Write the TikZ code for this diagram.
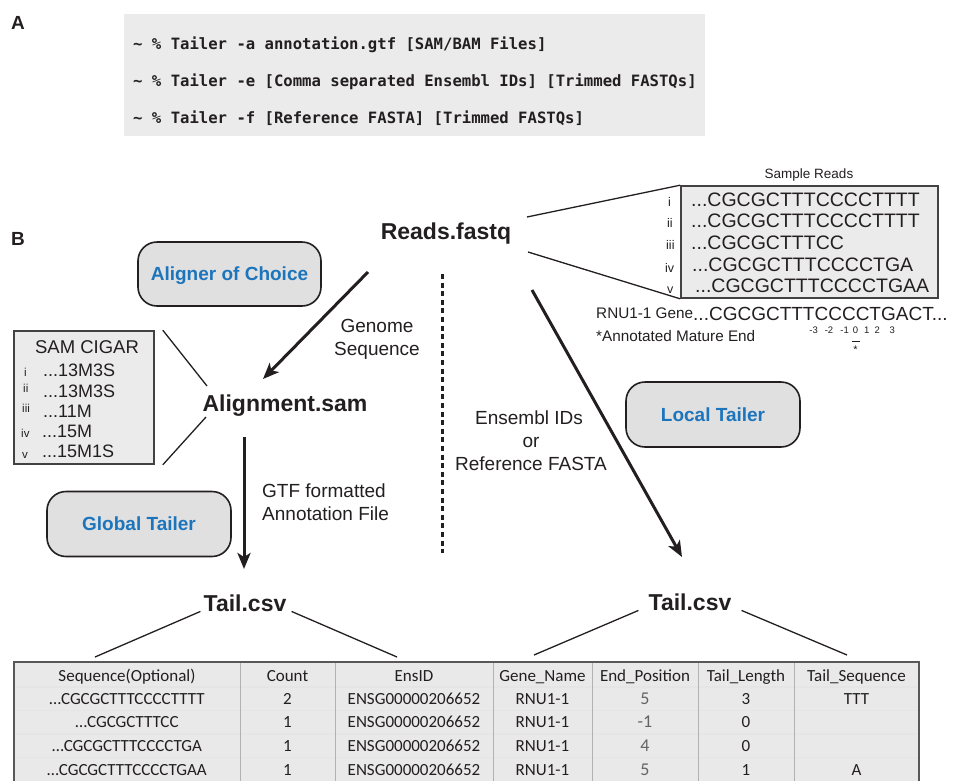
\documentclass[tikz,border=0pt]{standalone}
\usepackage{fontspec}
\setmainfont{Liberation Sans}
\newfontfamily\cmdfont{DejaVu Sans Mono}
\newfontfamily\tabfont{Carlito}
\usetikzlibrary{arrows.meta}
\definecolor{ink}{HTML}{231F20}
\definecolor{tblue}{HTML}{1C75BC}
\definecolor{toolfill}{HTML}{E0E0E0}
\definecolor{panelfill}{HTML}{EBEBEB}
\definecolor{tabfill}{HTML}{E9E9E9}
\newcommand\myfs[1]{\fontsize{#1}{#1}\selectfont}
\newcommand\mytabrow[9]{%
  \node[tcell] (#2a) at (127,#1) {#3};
  \node[tcell] (#2b) at (287.5,#1) {#4};
  \node[tcell] (#2c) at (414,#1) {#5};
  \node[tcell] (#2d) at (542.5,#1) {#6};
  \node[tlight] (#2e) at (645,#1) {#7};
  \node[tcell] (#2f) at (746,#1) {#8};
  \node[tcell] (#2g) at (856.5,#1) {#9};
}
\begin{document}
\begin{tikzpicture}[x=1pt,y=-1pt,
  lbl/.style={inner sep=0pt, text=ink},
  panel/.style={lbl, anchor=base, font=\bfseries\myfs{19}},
  cmd/.style={lbl, anchor=base west, font=\cmdfont\bfseries\myfs{15.6}},
  fname/.style={lbl, anchor=base, font=\bfseries\myfs{23}},
  toolbox/.style={draw=ink, line width=1.6pt, rounded corners=19pt, fill=toolfill,
    text=tblue, font=\bfseries\myfs{19}, text height=13.7pt, text depth=0pt, inner sep=0pt},
  note/.style={lbl, anchor=base, font=\myfs{19}},
  notel/.style={lbl, anchor=base west, font=\myfs{19}},
  seqtxt/.style={lbl, anchor=base west, font=\myfs{19.5}},
  roman/.style={lbl, anchor=base west, font=\myfs{12.5}},
  sroman/.style={lbl, anchor=base west, font=\myfs{11.5}},
  smalltxt/.style={lbl, anchor=base west, font=\myfs{15.3}},
  tinytxt/.style={lbl, anchor=base, font=\myfs{9.5}},
  cigtxt/.style={lbl, anchor=base west, font=\myfs{18}},
  thinline/.style={draw=ink, line width=1.3pt},
  bigarrow/.style={draw=ink, line width=3pt, -{Stealth[length=16pt,width=13pt,inset=4pt]}},
  listbox/.style={draw=ink!85, line width=1.6pt, fill=panelfill, inner sep=0pt},
  tcell/.style={inner sep=0pt, text=ink, anchor=base, font=\tabfont\myfs{17}},
  tlight/.style={inner sep=0pt, text=ink!70, anchor=base, font=\tabfont\myfs{18}}
]
\useasboundingbox (0,0) rectangle (956,780);

% ---------- Panel A ----------
\node[panel] (labA) at (18,29) {A};
\node[fill=panelfill, minimum width=581pt, minimum height=122pt, inner sep=0pt] (cmdbox) at (414.5,75) {};
\node[cmd] (cmd1) at (133,49) {\textasciitilde{} \% Tailer -a annotation.gtf [SAM/BAM Files]};
\node[cmd] (cmd2) at (133,86) {\textasciitilde{} \% Tailer -e [Comma separated Ensembl IDs] [Trimmed FASTQs]};
\node[cmd] (cmd3) at (133,123) {\textasciitilde{} \% Tailer -f [Reference FASTA] [Trimmed FASTQs]};

% ---------- Panel B ----------
\node[panel] (labB) at (18,245) {B};

\node[fname] (reads) at (446,239) {Reads.fastq};
\node[fname] (align) at (285,411) {Alignment.sam};
\node[fname] (tailL) at (245,611) {Tail.csv};
\node[fname] (tailR) at (690,610) {Tail.csv};

\node[toolbox, minimum width=183pt, minimum height=64pt] (aligner) at (229.5,274) {Aligner of Choice};
\node[toolbox, minimum width=174pt, minimum height=65pt] (local) at (713,414.5) {Local Tailer};
\node[toolbox, minimum width=184pt, minimum height=65pt] (global) at (139,524) {Global Tailer};

% arrows
\coordinate (a1s) at (368,272);
\coordinate (a1e) at (263,379);
\coordinate (a2s) at (244,437);
\coordinate (a2e) at (244,569);
\coordinate (a3s) at (532,290);
\coordinate (a3e) at (682,557);
\draw[bigarrow] (a1s) -- (a1e);
\draw[bigarrow] (a2s) -- (a2e);
\draw[bigarrow] (a3s) -- (a3e);

\node[note] (gen1) at (377,332) {Genome};
\node[note] (gen2) at (377,355) {Sequence};
\node[notel] (gtf1) at (262,497) {GTF formatted};
\node[notel] (gtf2) at (262,520) {Annotation File};
\node[note] (ens1) at (529,424) {Ensembl IDs};
\node[note] (ens2) at (531,447) {or};
\node[note] (ens3) at (531,470) {Reference FASTA};

% dotted divider
\coordinate (divtop) at (442,274);
\coordinate (divbot) at (442,553);
\draw[ink, line width=3pt, dash pattern=on 5pt off 3.6pt] (divtop) -- (divbot);

% ---------- Sample reads ----------
\node[lbl, anchor=base, font=\myfs{13.5}] (sampt) at (809,178) {Sample Reads};
\node[listbox, minimum width=257pt, minimum height=112pt] (sbox) at (809.5,242) {};
\coordinate (rl1) at (527,217);
\coordinate (rl2) at (528,252);
\draw[thinline] (rl1) -- (sbox.north west);
\draw[thinline] (rl2) -- (sbox.south west);
\node[roman] (sr1) at (668,206) {i};
\node[roman] (sr2) at (667,227) {ii};
\node[roman] (sr3) at (666,249) {iii};
\node[roman] (sr4) at (665,272) {iv};
\node[roman] (sr5) at (667,293) {v};
\node[seqtxt] (s1) at (691,206) {...CGCGCTTTCCCCTTTT};
\node[seqtxt] (s2) at (691,227) {...CGCGCTTTCCCCTTTT};
\node[seqtxt] (s3) at (691,249) {...CGCGCTTTCC};
\node[seqtxt] (s4) at (692,271) {...CGCGCTTTCCCCTGA};
\node[seqtxt] (s5) at (695,292) {...CGCGCTTTCCCCTGAA};

\node[smalltxt] (gene) at (596,318) {RNU1-1 Gene};
\node[lbl, anchor=base west, font=\myfs{19}] (geneseq) at (693,320) {...CGCGCTTTCCCCTGACT...};
\node[smalltxt] (annot) at (596,341) {*Annotated Mature End};
\node[tinytxt] (pm3) at (813.7,333) {-3};
\node[tinytxt] (pm2) at (829,333) {-2};
\node[tinytxt] (pm1) at (844.7,333) {-1};
\node[tinytxt] (p0) at (855.5,333) {0};
\node[tinytxt] (p1) at (866.7,333) {1};
\node[tinytxt] (p2) at (877.3,333) {2};
\node[tinytxt] (p3) at (892.3,333) {3};
\draw[ink, line width=0.8pt] (851.5,341) -- (859.5,341);
\node[lbl, font=\myfs{11}] (star) at (855.5,349.5) {*};

% ---------- SAM CIGAR ----------
\node[listbox, minimum width=140pt, minimum height=133pt] (cbox) at (84,397.5) {};
\node[lbl, anchor=base, font=\myfs{18.5}] (cigt) at (87,353) {SAM CIGAR};
\node[sroman] (cr1) at (24,376) {i};
\node[sroman] (cr2) at (23,392) {ii};
\node[sroman] (cr3) at (22,412) {iii};
\node[sroman] (cr4) at (21,437) {iv};
\node[sroman] (cr5) at (22,458) {v};
\node[cigtxt] (c1) at (43,376) {...13M3S};
\node[cigtxt] (c2) at (43,397) {...13M3S};
\node[cigtxt] (c3) at (43,417) {...11M};
\node[cigtxt] (c4) at (42,437) {...15M};
\node[cigtxt] (c5) at (42,457) {...15M1S};
\coordinate (cl1) at (207,386);
\coordinate (cl2) at (206,417);
\draw[thinline] ([xshift=8pt]cbox.north east) -- (cl1);
\draw[thinline] (cl2) -- ([xshift=8pt]cbox.south east);

% ---------- Table ----------
\fill[tabfill] (14,662) rectangle (919,782);
\foreach \yy in {687,710.5,734,757.5} \draw[white!80!gray, line width=1.2pt] (14,\yy) -- (919,\yy);
\foreach \xx in {240,335,493,592,698,794} \draw[gray!60, line width=1pt] (\xx,662) -- (\xx,782);
\draw[ink!75, line width=2pt] (14,662) rectangle (919,782);
\mytabrow{681}{h}{Sequence(Optional)}{Count}{EnsID}{Gene\_Name}{\textcolor{ink}{\myfs{17}End\_Position}}{Tail\_Length}{Tail\_Sequence}
\mytabrow{704}{ra}{…CGCGCTTTCCCCTTTT}{2}{ENSG00000206652}{RNU1-1}{5}{3}{TTT}
\mytabrow{727.5}{rb}{…CGCGCTTTCC}{1}{ENSG00000206652}{RNU1-1}{-1}{0}{}
\mytabrow{751}{rc}{…CGCGCTTTCCCCTGA}{1}{ENSG00000206652}{RNU1-1}{4}{0}{}
\mytabrow{775}{rd}{…CGCGCTTTCCCCTGAA}{1}{ENSG00000206652}{RNU1-1}{5}{1}{A}

\coordinate (tl1) at (95,657);
\coordinate (tl2) at (397,657);
\coordinate (tr1) at (534,655);
\coordinate (tr2) at (847,655);
\draw[thinline] ([xshift=-3pt]tailL.south west) -- (tl1);
\draw[thinline] ([xshift=5pt]tailL.south east) -- (tl2);
\draw[thinline] ([xshift=-10pt]tailR.south west) -- (tr1);
\draw[thinline] ([xshift=10pt]tailR.south east) -- (tr2);
\end{tikzpicture}
\end{document}
